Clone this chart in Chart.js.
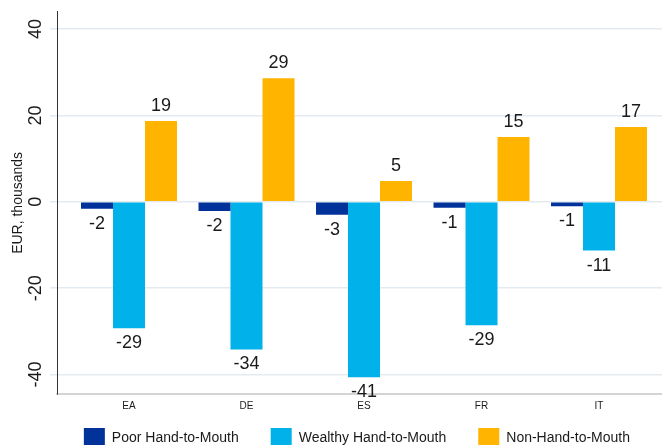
<!DOCTYPE html>
<html>
<head>
<meta charset="utf-8">
<script src="https://cdn.jsdelivr.net/npm/chart.js@4/dist/chart.umd.min.js"></script>
<style>
  html, body { margin: 0; padding: 0; background: #fff; }
  #wrap { width: 662px; height: 445px; overflow: hidden; }
</style>
</head>
<body>
<div id="wrap"><canvas id="htmChart"></canvas></div>
<script>
// Change in net wealth by household type, EUR thousands
const countries = ['EA', 'DE', 'ES', 'FR', 'IT'];
const poorHtM = [-1.6, -2.1, -3.0, -1.4, -1.0];
const wealthyHtM = [-29.3, -34.2, -40.6, -28.6, -11.3];
const nonHtM = [18.7, 28.6, 4.8, 15.0, 17.3];
const yTicks = [-40, -20, 0, 20, 40];

const FONT = "'Liberation Sans', Arial, Helvetica, sans-serif";

// value labels at the end of each bar
const barLabels = {
    id: 'barLabels',
    afterDatasetsDraw(chart) {
        const ctx = chart.ctx;
        ctx.save();
        ctx.font = '18px ' + FONT;
        ctx.fillStyle = '#1a1a1a';
        ctx.textAlign = 'center';
        ctx.textBaseline = 'middle';
        chart.data.datasets.forEach((ds, di) => {
            const meta = chart.getDatasetMeta(di);
            meta.data.forEach((bar, i) => {
                const v = ds.data[i].y;
                const y = v >= 0 ? bar.y - 15 : bar.y + 15;
                ctx.fillText(String(Math.round(v)), bar.x, y);
            });
        });
        ctx.restore();
    }
};

function toPoints(values) {
    return values.map((v, i) => ({ x: i, y: v }));
}

const ctx = document.getElementById('htmChart');
new Chart(ctx, {
    type: 'bar',
    data: {
        datasets: [
            {
                label: 'Poor Hand-to-Mouth',
                data: toPoints(poorHtM),
                backgroundColor: '#003299'
            },
            {
                label: 'Wealthy Hand-to-Mouth',
                data: toPoints(wealthyHtM),
                backgroundColor: '#00b1ea'
            },
            {
                label: 'Non-Hand-to-Mouth',
                data: toPoints(nonHtM),
                backgroundColor: '#ffb400'
            }
        ]
    },
    options: {
        responsive: true,
        maintainAspectRatio: false,
        animation: false,
        barPercentage: 1,
        categoryPercentage: 0.817,
        layout: {
            padding: { top: 10, left: 0, right: 0, bottom: -14 }
        },
        plugins: {
            tooltip: { enabled: false },
            legend: {
                position: 'bottom',
                align: 'end',
                labels: {
                    boxWidth: 21,
                    boxHeight: 21,
                    padding: 32,
                    color: '#1a1a1a',
                    font: { family: FONT, size: 14 }
                }
            }
        },
        scales: {
            x: {
                type: 'linear',
                offset: false,
                min: -0.6128,
                max: 4.536,
                afterBuildTicks: function (scale) {
                    scale.ticks = countries.map((c, i) => ({ value: i }));
                },
                afterFit: function (scale) {
                    scale.height = 2;
                },
                ticks: {
                    // mirrored with negative padding so the labels sit under the axis
                    mirror: true,
                    padding: -18,
                    maxRotation: 0,
                    autoSkip: false,
                    color: '#1a1a1a',
                    font: { family: FONT, size: 10 },
                    callback: function (value) {
                        return countries[value] || '';
                    }
                },
                grid: { display: false, drawTicks: false },
                border: { display: true, color: '#d4d4d4', width: 2 }
            },
            y: {
                min: -44.5,
                max: 44,
                afterBuildTicks: function (scale) {
                    scale.ticks = yTicks.map(v => ({ value: v }));
                },
                afterFit: function (scale) {
                    scale.width = 57;
                },
                title: {
                    display: true,
                    text: 'EUR, thousands',
                    color: '#1a1a1a',
                    font: { family: FONT, size: 14 },
                    padding: { top: 10, bottom: 0 }
                },
                ticks: {
                    minRotation: 90,
                    maxRotation: 90,
                    crossAlign: 'center',
                    padding: 1,
                    color: '#1a1a1a',
                    font: { family: FONT, size: 18 }
                },
                grid: {
                    color: '#e4ebf0',
                    lineWidth: 1.5,
                    tickLength: 7
                },
                border: { display: true, color: '#333333', width: 1 }
            }
        }
    },
    plugins: [barLabels]
});
</script>
</body>
</html>
